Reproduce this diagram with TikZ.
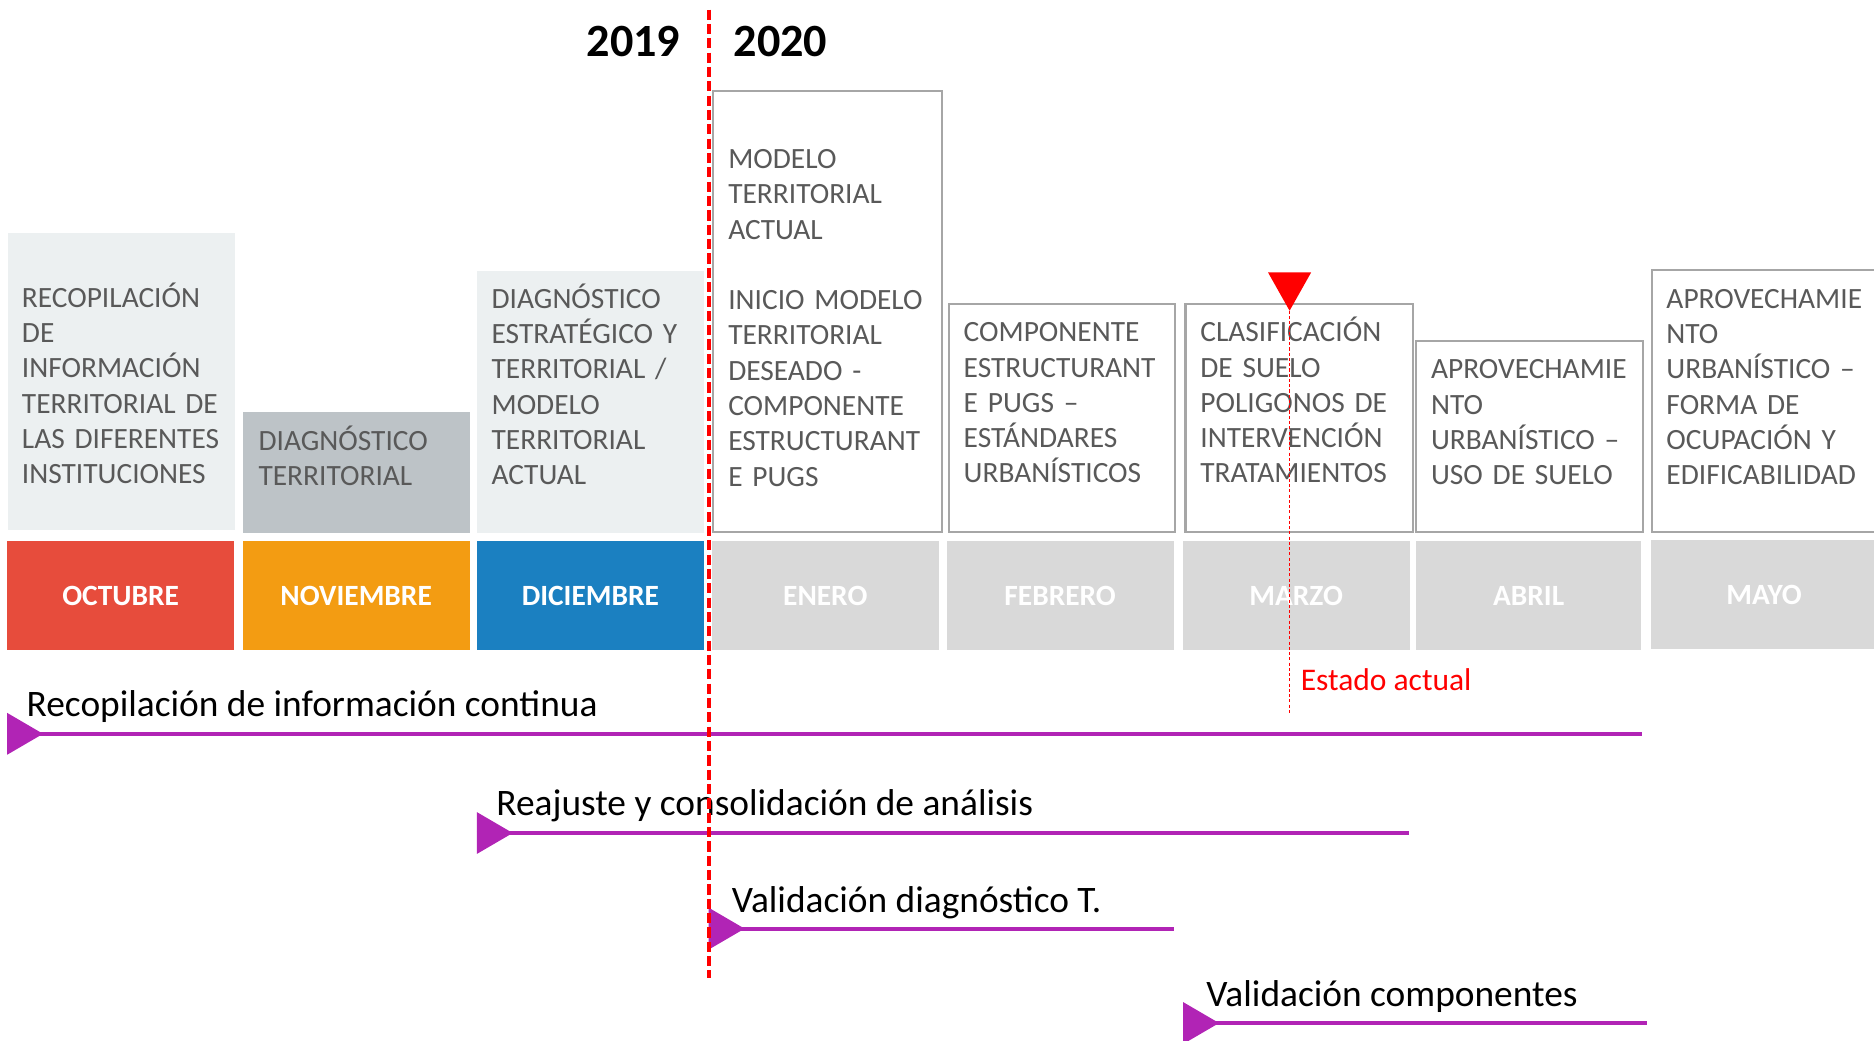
\documentclass[tikz,border=0pt]{standalone}
\usepackage{xcolor}
\usepackage{tikz}
\usepackage{fontspec}
\setmainfont{Carlito}

\definecolor{octred}{HTML}{E74C3C}
\definecolor{novorange}{HTML}{F39C12}
\definecolor{dicblue}{HTML}{1B80C1}
\definecolor{pendgray}{HTML}{D9D9D9}
\definecolor{lightfill}{HTML}{ECF0F1}
\definecolor{midfill}{HTML}{BDC3C7}
\definecolor{framegray}{HTML}{A6A6A6}
\definecolor{textgray}{HTML}{595959}
\definecolor{barpurple}{RGB}{177,36,181}

\newcommand{\barstart}[1]{\fill[barpurple] (#1) ++(0,0.35) -- ++(0.6,-0.35) -- ++(-0.6,-0.35) -- cycle;}

\begin{document}
\begin{tikzpicture}[
    month/.style={rectangle, minimum width=3.8cm, minimum height=1.82cm, inner sep=0pt, text=white, font=\fontsize{14}{16.8}\selectfont\bfseries},
    task/.style={rectangle, minimum width=3.8cm, inner sep=0pt, anchor=south west},
    framed/.style={task, draw=framegray, line width=1pt, fill=white},
    tasktext/.style={anchor=base west, inner sep=0pt, text width=3.5cm, align=left, text=textgray, font=\fontsize{14}{16.8}\selectfont},
    year/.style={font=\fontsize{22}{26}\selectfont\bfseries},
    bar/.style={barpurple, line width=1.8pt},
    barlabel/.style={anchor=west, inner sep=0pt, font=\fontsize{17.8}{21.4}\selectfont}
]
    \useasboundingbox (0,0) rectangle (31.36,-17.42);

    % Years
    \node[year] (y19) at (10.6,-0.7) {2019};
    \node[year] (y20) at (13.06,-0.7) {2020};

    % Task 1
    \node[task, fill=lightfill, minimum height=4.98cm] (b1) at (0.12,-8.88) {};
    \node[tasktext] (t1) at (0.36,-5.14) {RECOPILACIÓN\\DE\\INFORMACIÓN\\TERRITORIAL DE\\LAS DIFERENTES\\INSTITUCIONES};

    % Task 2
    \node[task, fill=midfill, minimum height=2.02cm] (b2) at (4.06,-8.92) {};
    \node[tasktext] (t2) at (4.32,-7.54) {DIAGNÓSTICO\\TERRITORIAL};

    % Task 3
    \node[task, fill=lightfill, minimum height=4.38cm] (b3) at (7.98,-8.92) {};
    \node[tasktext] (t3) at (8.22,-5.16) {DIAGNÓSTICO\\ESTRATÉGICO Y\\TERRITORIAL /\\MODELO\\TERRITORIAL\\ACTUAL};

    % Task 4
    \node[framed, minimum width=3.82cm, minimum height=7.38cm] (b4) at (11.92,-8.92) {};
    \node[tasktext] (t4) at (12.18,-2.82) {MODELO\\TERRITORIAL\\ACTUAL\\[16.8pt]INICIO MODELO\\TERRITORIAL\\DESEADO -\\COMPONENTE\\ESTRUCTURANT\\E PUGS};

    % Task 5
    \node[framed, minimum width=3.78cm, minimum height=3.82cm] (b5) at (15.86,-8.92) {};
    \node[tasktext] (t5) at (16.12,-5.72) {COMPONENTE\\ESTRUCTURANT\\E PUGS –\\ESTÁNDARES\\URBANÍSTICOS};

    % Task 6
    \node[framed, minimum height=3.82cm] (b6) at (19.82,-8.92) {};
    \node[tasktext] (t6) at (20.08,-5.72) {CLASIFICACIÓN\\DE SUELO\\POLIGONOS DE\\INTERVENCIÓN\\TRATAMIENTOS};

    % Task 7
    \node[framed, minimum height=3.2cm] (b7) at (23.68,-8.92) {};
    \node[tasktext] (t7) at (23.94,-6.34) {APROVECHAMIE\\NTO\\URBANÍSTICO –\\USO DE SUELO};

    % Task 8
    \node[framed, minimum height=4.38cm] (b8) at (27.62,-8.92) {};
    \node[tasktext] (t8) at (27.88,-5.16) {APROVECHAMIE\\NTO\\URBANÍSTICO –\\FORMA DE\\OCUPACIÓN Y\\EDIFICABILIDAD};

    % Months
    \node[month, fill=octred] (m1) at (2.02,-9.97) {OCTUBRE};
    \node[month, fill=novorange] (m2) at (5.96,-9.97) {NOVIEMBRE};
    \node[month, fill=dicblue] (m3) at (9.88,-9.97) {DICIEMBRE};
    \node[month, fill=pendgray] (m4) at (13.81,-9.97) {ENERO};
    \node[month, fill=pendgray] (m5) at (17.74,-9.97) {FEBRERO};
    \node[month, fill=pendgray] (m6) at (21.69,-9.97) {MARZO};
    \node[month, fill=pendgray, minimum width=3.76cm] (m7) at (25.58,-9.97) {ABRIL};
    \node[month, fill=pendgray] (m8) at (29.52,-9.95) {MAYO};

    % Bar 1
    \coordinate (s1) at (0.12,-12.28);
    \coordinate (e1) at (27.48,-12.28);
    \barstart{s1}
    \draw[bar] (s1) -- (e1);
    \node[barlabel] (l1) at (0.44,-11.82) {Recopilación de información continua};

    % Bar 2
    \coordinate (s2) at (7.98,-13.94);
    \coordinate (e2) at (23.58,-13.94);
    \barstart{s2}
    \draw[bar] (s2) -- (e2);
    \node[barlabel] (l2) at (8.3,-13.48) {Reajuste y consolidación de análisis};

    % Bar 3
    \coordinate (s3) at (11.86,-15.54);
    \coordinate (e3) at (19.64,-15.54);
    \barstart{s3}
    \draw[bar] (s3) -- (e3);
    \node[barlabel] (l3) at (12.24,-15.10) {Validación diagnóstico T.};

    % Bar 4
    \coordinate (s4) at (19.8,-17.12);
    \coordinate (e4) at (27.56,-17.12);
    \barstart{s4}
    \draw[bar] (s4) -- (e4);
    \node[barlabel] (l4) at (20.18,-16.67) {Validación componentes};

    % Year change
    \coordinate (ytop) at (11.86,-0.16);
    \coordinate (ybot) at (11.86,-16.36);
    \draw[red, line width=1.7pt, dash pattern=on 0.17cm off 0.07cm] (ytop) -- (ybot);

    % Current state
    \coordinate (now) at (21.58,-5.2);
    \coordinate (nowend) at (21.58,-11.94);
    \draw[red, line width=0.5pt, dash pattern=on 1.5pt off 1pt] (now) -- (nowend);
    \fill[red] (now) -- ++(-0.36,0.64) -- ++(0.72,0) -- cycle;
    \node[anchor=west, inner sep=0pt, text=red, font=\fontsize{15}{18}\selectfont] (est) at (21.76,-11.38) {Estado actual};
\end{tikzpicture}
\end{document}
